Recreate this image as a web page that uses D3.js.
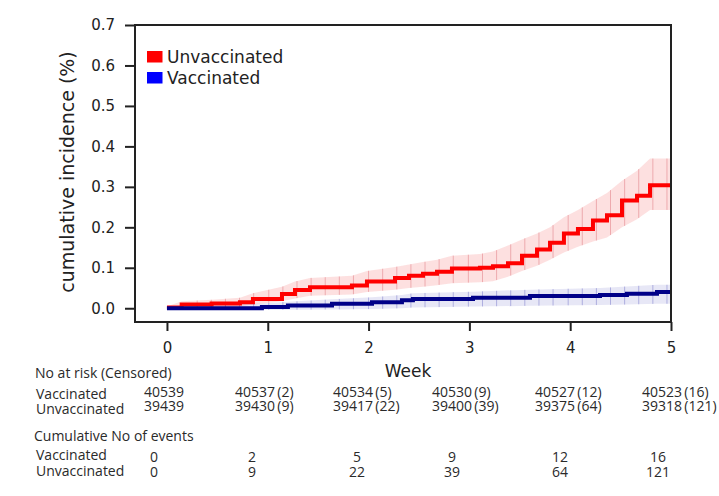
<!DOCTYPE html>
<html><head><meta charset="utf-8">
<script src="https://cdn.jsdelivr.net/npm/d3@7"></script>
<style>body{margin:0;background:#fff}</style>
</head><body>
<svg id="c" width="719" height="496"></svg>
<script>
// ---------------- data ----------------
const weekTicks = [0, 1, 2, 3, 4, 5];
const yTicks = [0.0, 0.1, 0.2, 0.3, 0.4, 0.5, 0.6, 0.7];
const seriesNames = ["Unvaccinated", "Vaccinated"];
const endWeek = 5;

// Unvaccinated: step start (weeks), cumulative incidence (%), CI low/high
const unvT  = [0, 0.146, 0.443, 0.724, 0.853, 1.141, 1.270, 1.419, 1.835, 1.984, 2.262, 2.401, 2.540, 2.679, 2.827, 3.105, 3.234, 3.383, 3.522, 3.671, 3.800, 3.938, 4.077, 4.226, 4.365, 4.514, 4.663, 4.792];
const unvV  = [0.002, 0.009, 0.012, 0.015, 0.023, 0.035, 0.045, 0.052, 0.056, 0.066, 0.075, 0.080, 0.085, 0.090, 0.098, 0.100, 0.104, 0.111, 0.130, 0.145, 0.162, 0.185, 0.196, 0.217, 0.230, 0.266, 0.278, 0.304];
const unvLo = [0, 0.002, 0.003, 0.005, 0.009, 0.017, 0.024, 0.031, 0.034, 0.040, 0.046, 0.050, 0.053, 0.057, 0.062, 0.064, 0.067, 0.078, 0.092, 0.105, 0.120, 0.138, 0.152, 0.165, 0.175, 0.200, 0.220, 0.243];
const unvHi = [0.004, 0.017, 0.021, 0.026, 0.037, 0.053, 0.066, 0.075, 0.080, 0.092, 0.102, 0.108, 0.114, 0.120, 0.130, 0.134, 0.140, 0.155, 0.170, 0.185, 0.200, 0.225, 0.243, 0.265, 0.285, 0.315, 0.340, 0.370];

// Vaccinated
const vacT  = [0, 0.942, 1.200, 1.637, 2.034, 2.331, 2.440, 3.036, 3.601, 4.296, 4.563, 4.861];
const vacV  = [0, 0.003, 0.007, 0.011, 0.015, 0.020, 0.023, 0.026, 0.030, 0.033, 0.036, 0.040];
const vacLo = [0, -0.004, -0.004, -0.003, -0.002, 0.000, 0.002, 0.004, 0.006, 0.008, 0.009, 0.011];
const vacHi = [0.003, 0.012, 0.016, 0.022, 0.027, 0.033, 0.037, 0.041, 0.046, 0.050, 0.054, 0.058];

// times of the thin vertical CI marks (weeks)
const ciMarkT = [0.30, 0.44, 0.58, 0.72, 0.86, 1.01, 1.15, 1.29, 1.43, 1.57, 1.71, 1.85, 2.00, 2.14, 2.28, 2.42, 2.56, 2.70, 2.84, 2.99, 3.13, 3.27, 3.41, 3.55, 3.69, 3.83, 3.98, 4.12, 4.26, 4.40, 4.54, 4.68, 4.82, 4.96];

// risk table
const tableGroups = ["Vaccinated", "Unvaccinated"];
const atRiskVacc = [40539, 40537, 40534, 40530, 40527, 40523];
const censVacc = [null, 2, 5, 9, 12, 16];
const atRiskUnvacc = [39439, 39430, 39417, 39400, 39375, 39318];
const censUnvacc = [null, 9, 22, 39, 64, 121];
const eventsVacc = [0, 2, 5, 9, 12, 16];
const eventsUnvacc = [0, 9, 22, 39, 64, 121];

// ---------------- layout ----------------
const svg = d3.select("#c");
const L = 135, R = 671, T = 25, B = 322;
const x = d3.scaleLinear().domain([-0.317, 5]).range([L, R]);
const y = d3.scaleLinear().domain([-0.034, 0.7]).range([B, T]);
const axisFont = "DejaVu Sans, sans-serif";
const tableFont = "'Open Sans', 'Noto Sans', sans-serif";
const ink = "#222";

svg.append("defs").append("clipPath").attr("id", "clip")
  .append("rect").attr("x", L).attr("y", T).attr("width", R - L).attr("height", B - T);

function series(Ts, Vs, Lo, Hi) {
  const pts = Ts.map((t, i) => ({t, v: Vs[i], lo: Lo[i], hi: Hi[i]}));
  const last = pts[pts.length - 1];
  pts.push({t: endWeek, v: last.v, lo: last.lo, hi: last.hi});
  return pts;
}
function interpAt(pts, t) {
  const i = Math.max(0, d3.bisectRight(pts.map(p => p.t), t) - 1);
  const a = pts[i], b = pts[Math.min(i + 1, pts.length - 1)];
  const f = b.t === a.t ? 0 : (t - a.t) / (b.t - a.t);
  return {lo: a.lo + (b.lo - a.lo) * f, hi: a.hi + (b.hi - a.hi) * f};
}

const unv = series(unvT, unvV, unvLo, unvHi);
const vac = series(vacT, vacV, vacLo, vacHi);

const plot = svg.append("g").attr("clip-path", "url(#clip)");
const area = d3.area().x(d => x(d.t)).y0(d => y(d.lo)).y1(d => y(d.hi));
const line = d3.line().x(d => x(d.t)).y(d => y(d.v)).curve(d3.curveStepAfter);

const styles = [
  {pts: unv, band: "rgba(245,70,70,0.17)", mark: "rgba(215,90,100,0.4)", line: "#ff0000"},
  {pts: vac, band: "rgba(40,40,170,0.11)", mark: "rgba(90,90,190,0.4)", line: "#000088"}
];
styles.forEach(s => {
  plot.append("path").datum(s.pts).attr("d", area).attr("fill", s.band);
  plot.append("g").selectAll("line").data(ciMarkT).join("line")
    .attr("x1", t => x(t)).attr("x2", t => x(t))
    .attr("y1", t => y(interpAt(s.pts, t).lo))
    .attr("y2", t => y(interpAt(s.pts, t).hi))
    .attr("stroke", s.mark).attr("stroke-width", 1);
});
styles.forEach(s => {
  plot.append("path").datum(s.pts).attr("d", line)
    .attr("fill", "none").attr("stroke", s.line).attr("stroke-width", 4);
});

// axes
const gy = svg.append("g").attr("transform", `translate(${L},0)`)
  .call(d3.axisLeft(y).tickValues(yTicks).tickFormat(d3.format(".1f")).tickSize(10).tickPadding(10));
const gx = svg.append("g").attr("transform", `translate(0,${B})`)
  .call(d3.axisBottom(x).tickValues(weekTicks).tickFormat(d3.format("d")).tickSize(9).tickPadding(11));
[gx, gy].forEach(g => {
  g.select(".domain").remove();
  g.selectAll(".tick line").attr("stroke", ink).attr("stroke-width", 2);
  g.selectAll(".tick text").attr("fill", ink).attr("font-family", axisFont).attr("font-size", 15);
});
svg.append("rect").attr("x", L).attr("y", T).attr("width", R - L).attr("height", B - T)
  .attr("fill", "none").attr("stroke", ink).attr("stroke-width", 2);

// axis titles
svg.append("text").attr("transform", "translate(74,172) rotate(-90)")
  .attr("text-anchor", "middle").attr("font-family", axisFont).attr("font-size", 19)
  .attr("fill", ink).text("cumulative incidence (%)");
svg.append("text").attr("x", 408).attr("y", 377).attr("text-anchor", "middle")
  .attr("font-family", axisFont).attr("font-size", 17).attr("fill", ink).text("Week");

// legend
const legendColors = ["#ff0000", "#0000ff"];
const lg = svg.append("g");
seriesNames.forEach((n, i) => {
  lg.append("rect").attr("x", 147).attr("y", 51 + i * 21).attr("width", 15.5).attr("height", 11.5)
    .attr("fill", legendColors[i]);
  lg.append("text").attr("x", 167).attr("y", 62.5 + i * 21).attr("font-family", axisFont)
    .attr("font-size", 17).attr("fill", ink).text(n);
});

// risk table
const tg = svg.append("g").attr("font-family", tableFont).attr("font-size", 14).attr("fill", "#2a2a2a");
const colX = [144, 235, 333, 432, 535, 642];
const evX = [154, 252, 357, 452, 560, 658];
tg.append("text").attr("x", 35).attr("y", 378).text("No at risk (Censored)");
tg.append("text").attr("x", 36).attr("y", 399).text(tableGroups[0]);
tg.append("text").attr("x", 36).attr("y", 414).text(tableGroups[1]);
const fmtRisk = (n, c) => c === null ? String(n) : `${n}\u2009(${c})`;
atRiskVacc.forEach((n, i) => tg.append("text").attr("x", colX[i]).attr("y", 397).text(fmtRisk(n, censVacc[i])));
atRiskUnvacc.forEach((n, i) => tg.append("text").attr("x", colX[i]).attr("y", 411).text(fmtRisk(n, censUnvacc[i])));
tg.append("text").attr("x", 34).attr("y", 441).text("Cumulative No of events");
tg.append("text").attr("x", 36).attr("y", 460).text(tableGroups[0]);
tg.append("text").attr("x", 36).attr("y", 476).text(tableGroups[1]);
eventsVacc.forEach((n, i) => tg.append("text").attr("x", evX[i]).attr("y", 462).attr("text-anchor", "middle").text(n));
eventsUnvacc.forEach((n, i) => tg.append("text").attr("x", evX[i]).attr("y", 477).attr("text-anchor", "middle").text(n));
</script>
</body></html>
